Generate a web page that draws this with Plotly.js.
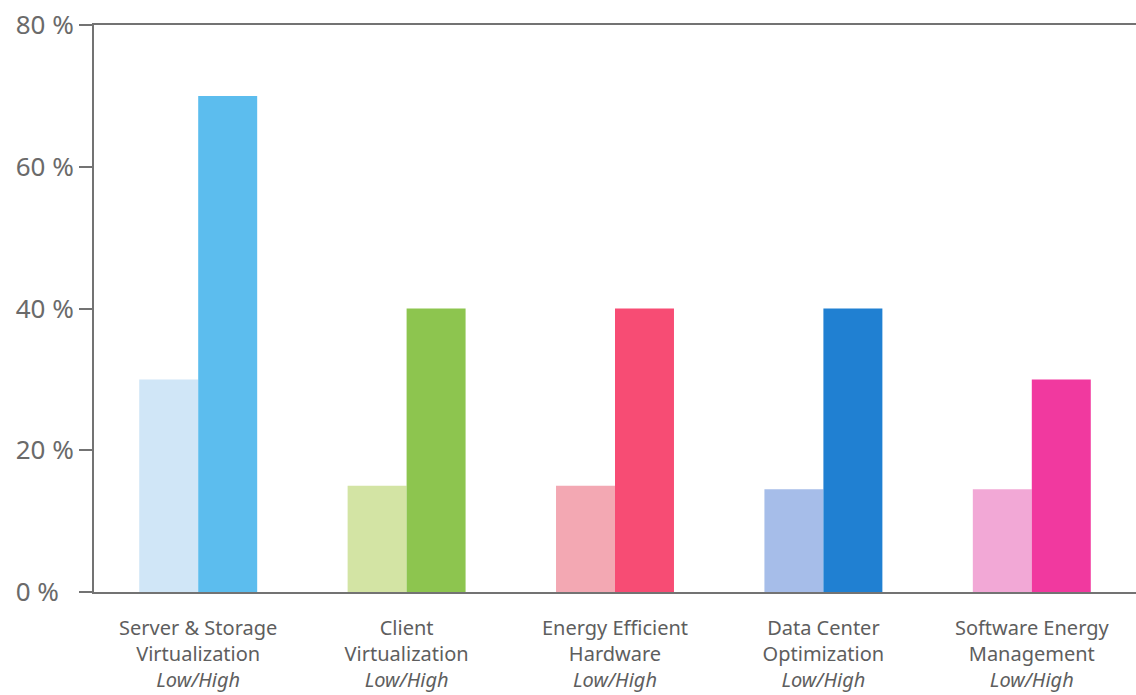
<!DOCTYPE html>
<html>
<head>
<meta charset="utf-8">
<script src="https://cdn.plot.ly/plotly-3.0.1.min.js"></script>
<style>
  html, body { margin: 0; padding: 0; background: #ffffff; }
  #chart { width: 1136px; height: 695px; }
</style>
</head>
<body>
<div id="chart"></div>
<script>
// Potential energy savings per Green IT measure (low / high estimate)
const categories = [
  "Server & Storage Virtualization",
  "Client Virtualization",
  "Energy Efficient Hardware",
  "Data Center Optimization",
  "Software Energy Management"
];
const tickLabels = [
  "Server & Storage<br>Virtualization<br><i>Low/High</i>",
  "Client<br>Virtualization<br><i>Low/High</i>",
  "Energy Efficient<br>Hardware<br><i>Low/High</i>",
  "Data Center<br>Optimization<br><i>Low/High</i>",
  "Software Energy<br>Management<br><i>Low/High</i>"
];
const lowValues = [30, 15, 15, 14.5, 14.5];
const highValues = [70, 40, 40, 40, 30];
const lowColors = ["#d0e6f7", "#d3e4a4", "#f3a8b3", "#a6bde9", "#f2a8d6"];
const highColors = ["#5cbdee", "#8dc54f", "#f74c74", "#2080d2", "#f1399f"];
const yTicks = [0, 20, 40, 60, 80];
// labels share a left edge: single-digit label padded with a figure space
const yTickLabels = yTicks.map(v => v < 10 ? v + " %\u2007" : v + " %");

const traces = [
  {
    type: "bar", name: "Low", x: categories, y: lowValues,
    marker: { color: lowColors, line: { width: 0 } },
    hoverinfo: "x+y"
  },
  {
    type: "bar", name: "High", x: categories, y: highValues,
    marker: { color: highColors, line: { width: 0 } },
    hoverinfo: "x+y"
  }
];

const layout = {
  width: 1136, height: 695,
  margin: { l: 94, r: 0, t: 25, b: 103 },
  paper_bgcolor: "#ffffff",
  plot_bgcolor: "#ffffff",
  showlegend: false,
  barmode: "group",
  bargap: 0.434,
  bargroupgap: 0,
  font: { family: "Noto Sans, Open Sans, sans-serif", color: "#666666" },
  xaxis: {
    type: "category",
    tickvals: categories,
    ticktext: tickLabels,
    tickfont: { size: 20, color: "#5e5e5e" },
    ticklabelstandoff: 17,
    showline: true, linecolor: "#737373", linewidth: 2,
    mirror: true,
    ticks: "", showgrid: false, zeroline: false,
    range: [-0.5, 4.5],
    fixedrange: true
  },
  yaxis: {
    range: [0, 80],
    tickvals: yTicks,
    ticktext: yTickLabels,
    tickfont: { size: 26, color: "#6a6a6a" },
    ticks: "outside", ticklen: 13, tickwidth: 2, tickcolor: "#737373",
    showline: true, linecolor: "#737373", linewidth: 2,
    showgrid: false, zeroline: false,
    fixedrange: true
  }
};

Plotly.newPlot("chart", traces, layout, { displayModeBar: false, staticPlot: true });
</script>
</body>
</html>
